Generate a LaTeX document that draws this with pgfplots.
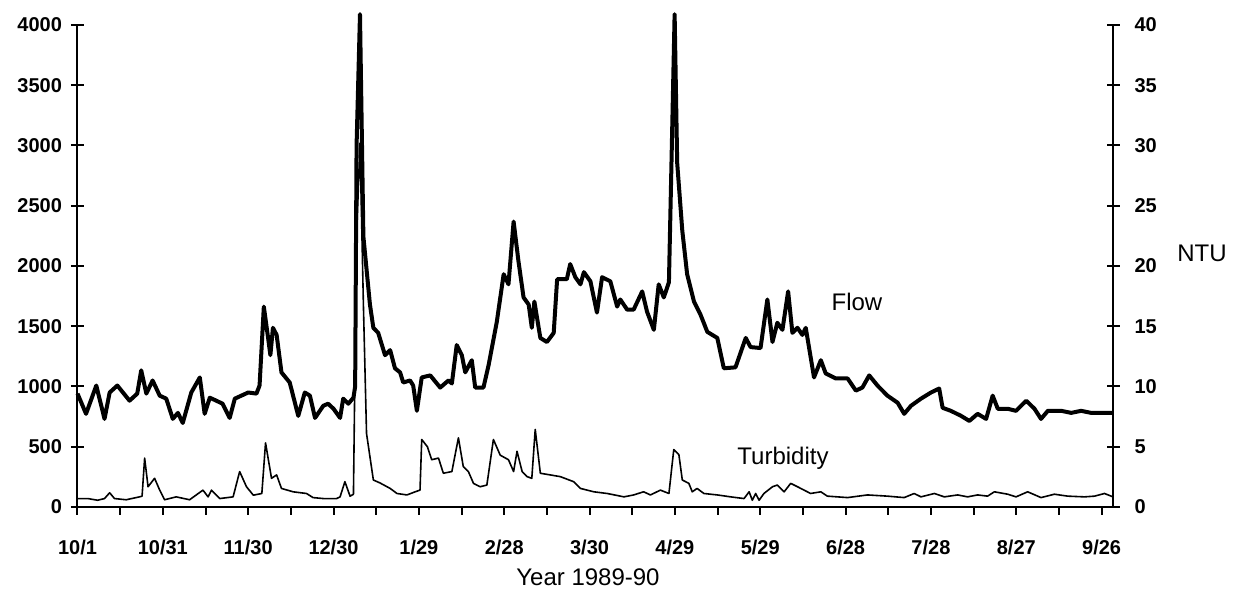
\documentclass[border=0pt]{standalone}
\usepackage{fontspec}
\setmainfont{Liberation Sans}
\usepackage{pgfplots}
\pgfplotsset{compat=1.18}
\usepackage{pgfplotstable}

\pgfplotstableread{
day flow
0 941
3 773
6.6 1008
9.5 731
11.3 950
14 1008
18.3 882
21 941
22.4 1134
24.2 941
26.4 1050
28.9 924
31.2 899
33.5 731
35.3 781
37 697
40 950
43 1075
44.7 773
46.5 907
48.8 882
51 857
53.5 739
55.3 899
57.6 924
60 950
62.9 941
64 1008
65.5 1663
67 1403
67.8 1260
68.7 1487
70 1428
71.7 1117
74.6 1033
77.6 756
79.9 950
81.7 924
83.5 739
86.4 840
88.1 857
90 815
92.3 739
93.4 899
95.2 857
97 907
97.6 1000
98.1 3000
99.3 4090
100.5 2243
102.8 1680
104 1487
105.7 1445
108.1 1260
109.9 1302
111.6 1151
113.4 1117
114.5 1033
116.9 1050
118 1008
119.3 798
121 1075
124 1092
127.5 991
130.4 1050
131.6 1025
133.3 1344
135.1 1260
136.3 1117
138.6 1218
139.8 991
142.7 991
144.5 1176
147.4 1537
149.8 1932
151.5 1848
153.3 2369
155 2041
156.8 1739
158.6 1680
159.7 1487
160.6 1705
162.7 1403
165 1369
167.4 1445
168.6 1890
172 1890
173.2 2016
175 1907
176.8 1848
178 1949
180.3 1873
182.6 1613
184.4 1907
187.3 1873
189.7 1663
190.8 1722
193.2 1638
195.5 1638
198.5 1789
200.2 1621
202.6 1470
204.3 1848
206.1 1739
207.9 1865
209 3083
209.9 4090
210.8 2856
212.6 2293
214.3 1932
216.7 1705
219 1596
221.4 1453
224.9 1403
227.2 1151
231.3 1159
234.9 1403
236.6 1327
240.1 1319
242.5 1722
244.3 1369
246 1529
247.8 1470
249.8 1789
251.3 1445
253.1 1487
254.8 1428
256 1487
258.9 1075
261.3 1218
263 1109
266.5 1067
270.7 1067
273.6 966
275.9 991
278.3 1092
281.2 1008
284.7 924
288.3 865
290.6 773
293 840
296.5 899
300 950
302.9 983
304.1 823
307 798
310.6 756
313.5 714
316.4 773
319.4 731
321.7 924
323.5 815
327 815
329.9 798
333.5 882
336.4 815
338.7 731
341.1 798
345.8 798
349.3 781
352.8 798
356.3 781
359.9 781
364 781
}\flowdata

\pgfplotstableread{
day ntu
0 0.7
3.6 0.7
7.1 0.56
9.5 0.7
11.3 1.18
13 0.7
17.1 0.6
21.8 0.84
22.7 0.9
23.6 4.06
24.8 1.68
27.1 2.38
28.9 1.4
30.6 0.6
34.7 0.84
39.4 0.6
44.1 1.4
45.9 0.84
47.1 1.4
50 0.7
54.7 0.84
57 2.94
59.4 1.68
61.8 0.98
64.8 1.12
66.1 5.32
68.2 2.38
70 2.66
71.7 1.54
75.8 1.26
80.5 1.12
82.8 0.78
86.4 0.7
91.1 0.7
92.3 0.84
94 2.1
95.8 0.9
97 1.05
98.1 22.4
99.3 30.2
100.5 16.8
101.6 6.1
104 2.24
106.3 2.0
109.9 1.54
112.3 1.12
115.8 1.0
118.7 1.26
120.4 1.4
121 5.6
123 5.0
124.5 3.92
126.9 4.06
128.6 2.8
131.6 2.94
133.9 5.74
135.6 3.36
137.4 2.94
139.2 1.96
141.5 1.68
143.9 1.82
146.2 5.6
148.6 4.3
151.5 3.92
153.3 2.94
154.5 4.62
156.3 2.94
158 2.52
159.7 2.38
160.9 6.44
162.7 2.8
166.2 2.66
169.7 2.52
174.4 2.1
176.8 1.54
181.5 1.26
186.2 1.12
192.1 0.84
195.5 1.0
199 1.26
201.4 1.0
204.9 1.4
207.9 1.12
209.6 4.76
211.4 4.34
212.6 2.24
214.9 1.96
216.1 1.26
217.8 1.54
220.2 1.12
224.9 1.0
229.6 0.84
234.3 0.7
236.1 1.26
237.2 0.56
238.4 1.12
239.6 0.56
241.3 1.12
244.3 1.68
246 1.82
248.4 1.26
250.7 1.96
253.1 1.68
255.4 1.4
257.7 1.12
261.3 1.26
263.6 0.9
270.7 0.78
277.7 1.0
284.7 0.9
290.6 0.78
294.1 1.12
296.5 0.84
301.2 1.12
304.7 0.84
309.4 1.0
312.9 0.84
316.4 1.0
319.9 0.9
322.3 1.26
327 1.06
329.9 0.84
334 1.26
338.7 0.78
343.4 1.06
348.1 0.9
354 0.84
357.5 0.9
361 1.12
364 0.84
}\turbdata

\begin{document}
\begin{tikzpicture}
\useasboundingbox (-38.75pt,-42.5pt) rectangle (580.75pt,253.5pt);
\pgfplotsset{base/.style={
  scale only axis, width=517.75pt, height=241pt,
  xmin=0, xmax=364, at={(0pt,0pt)}, anchor=south west,
  axis line style={line width=1pt,-},
  tick style={line width=1pt, black},
  ticklabel style={font=\fontsize{10}{12}\selectfont\bfseries},
  clip=false}}
% x axis
\begin{axis}[base, ymin=0, ymax=1, axis x line*=bottom, hide y axis,
  tick align=outside, major tick length=4pt, minor tick length=4pt,
  xtick={0,30,...,360},
  xticklabels={10/1,10/31,11/30,12/30,1/29,2/28,3/30,4/29,5/29,6/28,7/28,8/27,9/26},
  minor xtick={15,45,...,345},
  xticklabel style={yshift=-9pt}]
\addplot[draw=none] coordinates {(0,0)};
\node[font=\fontsize{12}{14}\selectfont] at (rel axis cs:0.493,-0.145) {Year 1989-90};
\end{axis}
% flow axis
\begin{axis}[base, ymin=0, ymax=4000, axis y line*=left, hide x axis,
  tick align=center, major tick length=6.5pt,
  ytick={0,500,...,4000},
  yticklabels={0,500,1000,1500,2000,2500,3000,3500,4000},
  yticklabel style={xshift=-1pt}]
\addplot[black, line width=2pt, line join=round] table[x=day,y=flow] {\flowdata};
\node[font=\fontsize{12}{14}\selectfont] at (axis cs:274,1700) {Flow};
\node[font=\fontsize{12}{14}\selectfont] at (axis cs:248,406) {Turbidity};
\end{axis}
% turbidity axis
\begin{axis}[base, ymin=0, ymax=40, axis y line*=right, hide x axis,
  tick align=center, major tick length=6.5pt,
  ytick={0,5,...,40},
  yticklabels={0,5,10,15,20,25,30,35,40},
  yticklabel style={xshift=4pt}]
\addplot[black, line width=0.8pt, line join=round] table[x=day,y=ntu] {\turbdata};
\node[font=\fontsize{12}{14}\selectfont] at (rel axis cs:1.086,0.527) {NTU};
\end{axis}
\end{tikzpicture}
\end{document}
